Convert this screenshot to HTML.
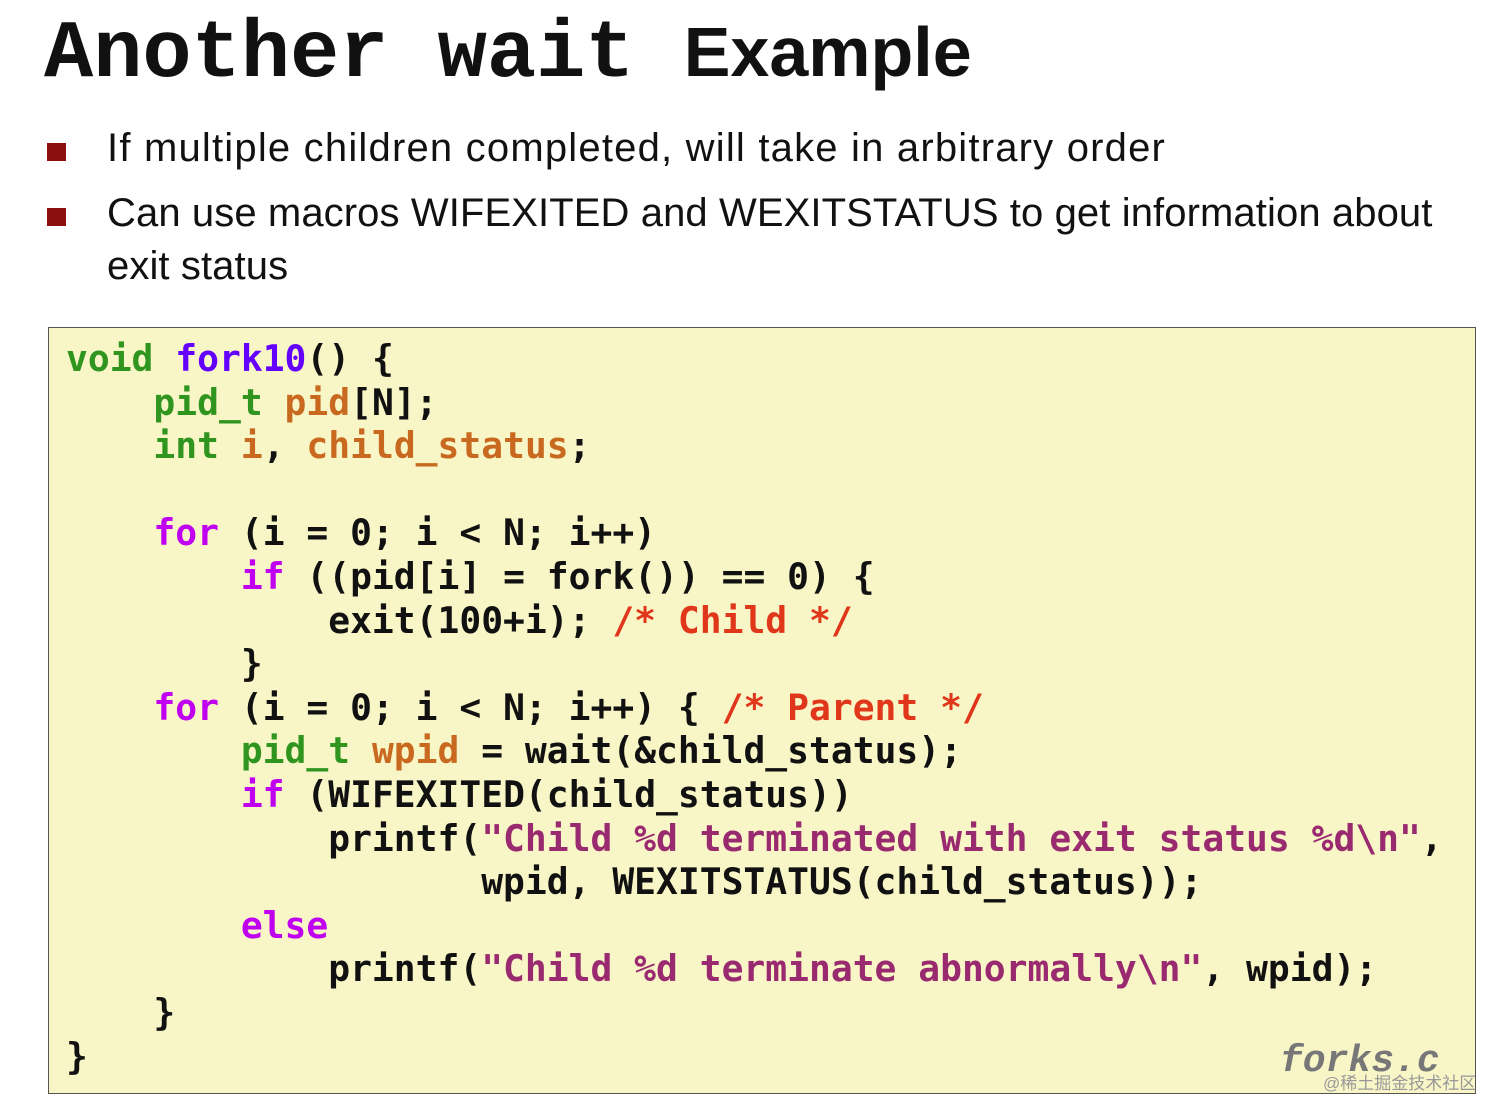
<!DOCTYPE html>
<html><head><meta charset="utf-8"><style>
body{margin:0;width:1512px;height:1119px;background:#fff;position:relative;overflow:hidden}
.t{position:absolute;left:44px;top:4px;font-size:82px;font-weight:bold;color:#111;white-space:pre;line-height:90px}
.t .m{font-family:"Liberation Mono",monospace}
.t .s{font-family:"Liberation Sans",sans-serif;font-size:70px}
.b{position:absolute;left:107px;font-family:"Liberation Sans",sans-serif;font-size:40px;color:#111;line-height:53px;letter-spacing:1.2px;white-space:nowrap}
.sq{position:absolute;left:47px;width:19px;height:18px;background:#8b0f0f}
.box{position:absolute;left:48px;top:327px;width:1426px;height:765px;background:#f8f5c6;border:1px solid #555}
pre{position:absolute;left:66px;top:337px;margin:0;font-family:"DejaVu Sans Mono","Liberation Mono",monospace;font-weight:bold;font-size:36.3px;line-height:43.6px;color:#111}
.g{color:#2f951f}.p{color:#6400ff}.o{color:#c8691f}.k{color:#c000f0}.c{color:#e0361a}.st{color:#9a2a70}
.f{position:absolute;left:1280px;top:1040px;font-family:"Liberation Mono",monospace;font-style:italic;font-weight:bold;font-size:38px;color:#777}
.w{position:absolute;left:1323px;top:1069px;font-family:"Liberation Sans","Noto Sans CJK SC",sans-serif;font-size:17px;color:#999}
</style></head><body>
<div class="t"><span class="m">Another wait </span><span class="s">Example</span></div>
<div class="sq" style="top:143px"></div>
<div class="b" style="top:122px">If multiple children completed, will take in arbitrary order</div>
<div class="sq" style="top:208px"></div>
<div class="b" style="top:187px;letter-spacing:0.1px">Can use macros WIFEXITED and WEXITSTATUS to get information about<br>exit status</div>
<div class="box"></div>
<pre><span class="g">void</span> <span class="p">fork10</span>() {
    <span class="g">pid_t</span> <span class="o">pid</span>[N];
    <span class="g">int</span> <span class="o">i</span>, <span class="o">child_status</span>;

    <span class="k">for</span> (i = 0; i &lt; N; i++)
        <span class="k">if</span> ((pid[i] = fork()) == 0) {
            exit(100+i); <span class="c">/* Child */</span>
        }
    <span class="k">for</span> (i = 0; i &lt; N; i++) { <span class="c">/* Parent */</span>
        <span class="g">pid_t</span> <span class="o">wpid</span> = wait(&amp;child_status);
        <span class="k">if</span> (WIFEXITED(child_status))
            printf(<span class="st">"Child %d terminated with exit status %d\n"</span>,
                   wpid, WEXITSTATUS(child_status));
        <span class="k">else</span>
            printf(<span class="st">"Child %d terminate abnormally\n"</span>, wpid);
    }
}</pre>
<div class="f">forks.c</div>
<div class="w">@稀土掘金技术社区</div>
</body></html>
